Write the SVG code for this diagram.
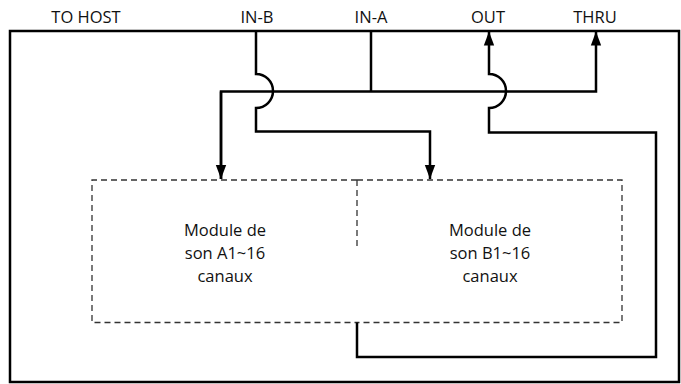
<svg xmlns="http://www.w3.org/2000/svg" width="681" height="384" viewBox="0 0 681 384">
<style>
.lbl{font-family:"Open Sans","Liberation Sans",sans-serif;font-size:16.5px;fill:#111;text-anchor:middle}
.mod{font-family:"Open Sans","Liberation Sans",sans-serif;font-size:16.5px;fill:#111;text-anchor:middle}
.w{fill:none;stroke:#000;stroke-width:2.5}
.d{fill:none;stroke:#333;stroke-width:1.3;stroke-dasharray:6 4}
</style>
<defs>
<marker id="ah" markerUnits="userSpaceOnUse" markerWidth="14" markerHeight="19" refX="19" refY="7" orient="auto" viewBox="0 0 19 14">
<path d="M0,0 L19,7 L0,14 Z" fill="#000"/>
</marker>
</defs>
<rect id="frame" x="10" y="31" width="669" height="351" fill="none" stroke="#000" stroke-width="2.5"/>
<g id="labels">
<text class="lbl" x="86" y="23">TO HOST</text>
<text class="lbl" x="257" y="23">IN-B</text>
<text class="lbl" x="371" y="23">IN-A</text>
<text class="lbl" x="488" y="23">OUT</text>
<text class="lbl" x="595" y="23">THRU</text>
</g>
<g id="moduleA">
<path class="d" d="M357,180 H92 V322.5 H357"/>
<text class="mod" x="225" y="236">Module de</text>
<text class="mod" x="225" y="259">son A1~16</text>
<text class="mod" x="225" y="282">canaux</text>
</g>
<g id="moduleB">
<path class="d" d="M357,180 H622 V322.5 H357"/>
<path class="d" d="M357,180 V250"/>
<text class="mod" x="490" y="236">Module de</text>
<text class="mod" x="490" y="259">son B1~16</text>
<text class="mod" x="490" y="282">canaux</text>
</g>
<g id="connectors">
<path class="w" d="M256,31 V74 A17,17 0 0 1 256,108 V131.5 H430 V179" marker-end="url(#ah)"/>
<path class="w" d="M371,31 V91.5"/>
<path class="w" d="M221,179 V91.5 H596 V31.5" marker-end="url(#ah)"/>
<path class="w" d="M221,91.5 V179" marker-end="url(#ah)"/>
<path class="w" d="M357,322.5 V357 H656 V132.5 H489 V108 A17,17 0 0 0 489,74 V31.5" marker-end="url(#ah)"/>
</g>
</svg>
